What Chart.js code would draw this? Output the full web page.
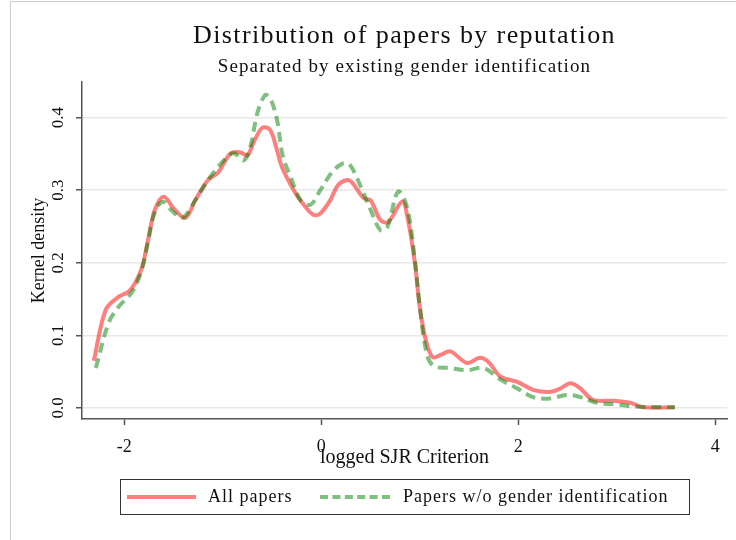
<!DOCTYPE html>
<html>
<head>
<meta charset="utf-8">
<script src="https://cdn.jsdelivr.net/npm/chart.js@4.4.0/dist/chart.umd.min.js"></script>
<style>
  html, body { margin: 0; padding: 0; background: #fff; }
  #wrap { position: relative; width: 736px; height: 540px; overflow: hidden; }
  #frame { position: absolute; left: 10px; top: 1px; width: 730px; height: 545px;
           border-left: 1px solid #cfcfcf; border-top: 1px solid #cfcfcf; }
  canvas { position: absolute; left: 0; top: 0; }
  .ttl { position: absolute; left: 82px; width: 645px; text-align: center; white-space: nowrap;
         font-family: "Liberation Serif", serif; color: #111; }
  #legend { position: absolute; left: 120px; top: 479px; width: 570px; height: 36px;
            border: 1.5px solid #333; box-sizing: border-box;
            font-family: "Liberation Serif", serif; font-size: 18px; letter-spacing: 1px; color: #111; }
  #legend span { position: absolute; top: 6px; }
  .ln { position: absolute; top: 15px; height: 0; }
</style>
</head>
<body>
<div id="wrap">
  <div id="frame"></div>
  <canvas id="c" width="736" height="540"></canvas>
  <div class="ttl" style="top:20px;font-size:26px;letter-spacing:1.4px;">Distribution of papers by reputation</div>
  <div class="ttl" style="top:55px;font-size:19px;letter-spacing:1.1px;">Separated by existing gender identification</div>
  <div id="legend">
    <div class="ln" style="left:6px;width:69px;border-top:4px solid rgba(255,0,0,0.5);"></div>
    <span style="left:87px;">All papers</span>
    <div class="ln" style="left:199px;width:70px;border-top:4px dashed rgba(0,128,0,0.5);"></div>
    <span style="left:282px;">Papers w/o gender identification</span>
  </div>
</div>
<script>
// 전체 논문
const allX = [-2.31, -2.19, -2.06, -1.96, -1.89, -1.82, -1.76, -1.69, -1.60, -1.50, -1.38, -1.28, -1.15, -1.05,
  -0.92, -0.82, -0.75, -0.69, -0.60, -0.52, -0.45, -0.40, -0.28, -0.19, -0.08, -0.01, 0.09, 0.17, 0.26, 0.31,
  0.43, 0.50, 0.60, 0.68, 0.82, 0.88, 0.95, 1.00, 1.06, 1.13, 1.21, 1.31, 1.48, 1.61, 1.70, 1.82, 1.99, 2.15,
  2.32, 2.43, 2.53, 2.63, 2.76, 2.97, 3.14, 3.27, 3.59];
const allY = [0.065, 0.135, 0.153, 0.160, 0.172, 0.194, 0.231, 0.273, 0.291, 0.275, 0.262, 0.286, 0.314, 0.324,
  0.351, 0.352, 0.348, 0.365, 0.386, 0.383, 0.355, 0.332, 0.300, 0.282, 0.266, 0.268, 0.286, 0.307, 0.314, 0.311,
  0.289, 0.286, 0.259, 0.256, 0.284, 0.259, 0.200, 0.139, 0.094, 0.070, 0.073, 0.078, 0.062, 0.069, 0.063, 0.043,
  0.036, 0.025, 0.022, 0.027, 0.034, 0.027, 0.011, 0.010, 0.007, 0.001, 0.001];
// 성별 식별 없는 논문
const noGenX = [-2.29, -2.16, -2.06, -1.92, -1.82, -1.76, -1.69, -1.61, -1.52, -1.41, -1.28, -1.15, -0.99, -0.89,
  -0.79, -0.72, -0.65, -0.57, -0.52, -0.45, -0.39, -0.31, -0.21, -0.11, -0.01, 0.11, 0.22, 0.29, 0.40, 0.50,
  0.60, 0.67, 0.78, 0.87, 0.95, 1.00, 1.07, 1.14, 1.31, 1.48, 1.65, 1.82, 1.99, 2.15, 2.32, 2.49, 2.63, 2.80,
  3.00, 3.17, 3.59];
const noGenY = [0.055, 0.117, 0.139, 0.160, 0.192, 0.229, 0.270, 0.284, 0.272, 0.262, 0.286, 0.314, 0.341, 0.351,
  0.341, 0.360, 0.406, 0.431, 0.427, 0.397, 0.346, 0.318, 0.286, 0.280, 0.300, 0.325, 0.337, 0.335, 0.305, 0.273,
  0.245, 0.249, 0.298, 0.277, 0.204, 0.140, 0.075, 0.058, 0.055, 0.052, 0.055, 0.039, 0.027, 0.015, 0.013, 0.018,
  0.015, 0.007, 0.005, 0.002, 0.001];
const yTicks = [0, 0.1, 0.2, 0.3, 0.4];
const xTicks = [-2, 0, 2, 4];

const serif = "'Liberation Serif', serif";
const toPts = (xs, ys) => xs.map((x, i) => ({ x: x, y: ys[i] }));

new Chart(document.getElementById('c').getContext('2d'), {
  type: 'scatter',
  data: {
    datasets: [
      {
        label: 'All papers',
        data: toPts(allX, allY),
        showLine: true,
        borderColor: 'rgba(255,0,0,0.5)',
        borderWidth: 4,
        pointRadius: 0,
        tension: 0.35,
        order: 2
      },
      {
        label: 'Papers w/o gender identification',
        data: toPts(noGenX, noGenY),
        showLine: true,
        borderColor: 'rgba(0,128,0,0.5)',
        borderWidth: 4,
        borderDash: [10, 6],
        pointRadius: 0,
        tension: 0.35,
        order: 1
      }
    ]
  },
  options: {
    responsive: false,
    animation: false,
    layout: { padding: { left: 0, right: 9, top: 82, bottom: 61 } },
    plugins: { legend: { display: false }, tooltip: { enabled: false } },
    scales: {
      x: {
        type: 'linear',
        min: -2.43, max: 4.12,
        afterFit: s => { s.height = 60; },
        afterBuildTicks: s => { s.ticks = xTicks.map(v => ({ value: v })); },
        border: { color: '#555', width: 1.5 },
        grid: { drawOnChartArea: false, tickLength: 6, tickColor: '#555', tickWidth: 1.5 },
        ticks: { color: '#111', font: { family: serif, size: 18 }, padding: 11, maxRotation: 0,
                 callback: v => String(v) },
        title: { display: true, text: 'logged SJR Criterion', color: '#111',
                 font: { family: serif, size: 20 }, padding: { top: 0, bottom: 9 } }
      },
      y: {
        type: 'linear',
        min: -0.0152, max: 0.449,
        afterFit: s => { s.width = 82; },
        afterBuildTicks: s => { s.ticks = yTicks.map(v => ({ value: v })); },
        border: { color: '#555', width: 1.5 },
        grid: { color: '#e8e8e8', lineWidth: 1.5, tickLength: 6, tickColor: '#555', tickWidth: 1.5 },
        ticks: { color: '#111', font: { family: serif, size: 17 }, padding: 7, minRotation: 90, maxRotation: 90,
                 crossAlign: 'center', callback: v => v.toFixed(1) },
        title: { display: true, text: 'Kernel density', color: '#111',
                 font: { family: serif, size: 18 }, padding: { top: 28, bottom: 0 } }
      }
    }
  }
});
</script>
</body>
</html>
